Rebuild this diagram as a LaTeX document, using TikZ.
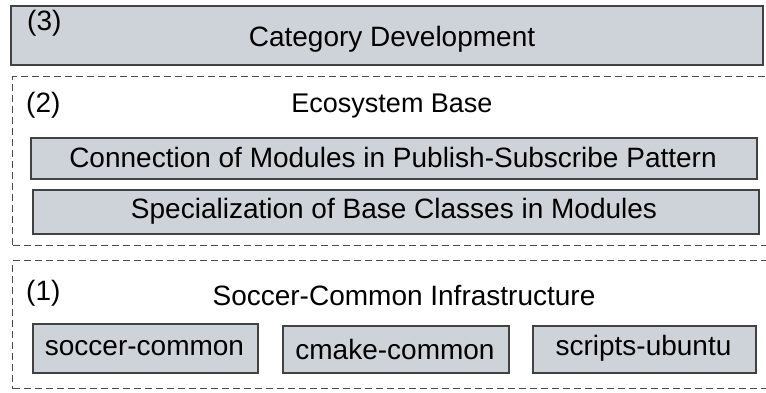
\documentclass[tikz,border=0pt]{standalone}
\usepackage{fontspec}
\setmainfont{Liberation Sans}
\definecolor{boxfill}{HTML}{CED3DA}
\definecolor{boxline}{HTML}{424242}
\definecolor{dashline}{HTML}{4A4A4A}
\begin{document}
\begin{tikzpicture}[x=1pt,y=-1pt,
  solidbox/.style={draw=boxline, fill=boxfill, line width=1.6pt, inner sep=0pt, anchor=north west},
  groupbox/.style={draw=dashline, dash pattern=on 7pt off 4pt, line width=1.3pt, inner sep=0pt, anchor=north west},
  txt/.style={font=\fontsize{28}{32}\selectfont, text=black, inner sep=0pt}]
\useasboundingbox (0,0) rectangle (766,392);
\begin{scope}
\clip (0,0) rectangle (766,392);
% (3)
\node[solidbox, minimum width=752pt, minimum height=59pt] (cat) at (10,5) {};
\node[txt, anchor=west] (n3) at (27,23) {(3)};
\node[txt, anchor=base] (catt) at (392,46) {Category Development};
% (2)
\node[groupbox, minimum width=770pt, minimum height=169pt] (eco) at (12,76) {};
\node[txt, anchor=west] (n2) at (26,105.5) {(2)};
\node[txt, font=\fontsize{27}{30}\selectfont] (ecot) at (392,106) {Ecosystem Base};
\node[solidbox, minimum width=726pt, minimum height=41pt] (conn) at (30,137) {};
\node[txt] (connt) at (393,157) {Connection of Modules in Publish-Subscribe Pattern};
\node[solidbox, minimum width=726pt, minimum height=44pt] (spec) at (32,189) {};
\node[txt] (spect) at (394,211.5) {Specialization of Base Classes in Modules};
% (1)
\node[groupbox, minimum width=770pt, minimum height=128pt] (soc) at (12,260) {};
\node[txt, anchor=west] (n1) at (26,293.5) {(1)};
\node[txt] (soct) at (404,295) {Soccer-Common Infrastructure};
\node[solidbox, minimum width=225pt, minimum height=49pt] (sc) at (32,323) {};
\node[txt] (sct) at (144.5,348) {soccer-common};
\node[solidbox, minimum width=226pt, minimum height=47pt] (cc) at (282,325) {};
\node[txt] (cct) at (395,349) {cmake-common};
\node[solidbox, minimum width=223pt, minimum height=47pt] (su) at (532,325) {};
\node[txt] (sut) at (643.5,348.5) {scripts-ubuntu};
\end{scope}
\end{tikzpicture}
\end{document}
